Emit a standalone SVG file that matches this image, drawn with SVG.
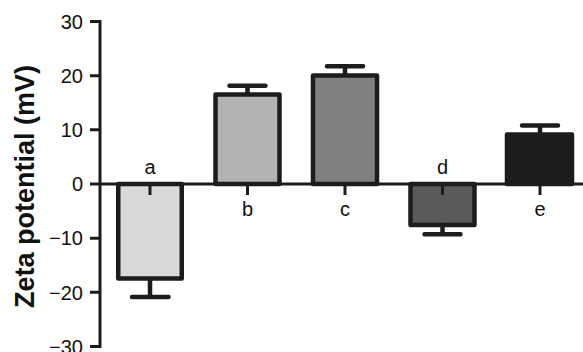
<svg xmlns="http://www.w3.org/2000/svg" width="583" height="352" viewBox="0 0 583 352">
<style>
.ax{stroke:#1c1c1c;stroke-width:3;fill:none}
.bar{stroke:#1c1c1c;stroke-width:4.5;stroke-linejoin:round}
.err{stroke:#1c1c1c;stroke-width:4.5;stroke-linecap:round;fill:none}
.tk{stroke:#1c1c1c;stroke-width:3;fill:none}
.t{font-family:"Liberation Sans",Arial,sans-serif;font-size:20px;fill:#111}
.yl{font-family:"Liberation Sans",Arial,sans-serif;font-size:27px;font-weight:bold;fill:#111}
</style>
<rect width="583" height="352" fill="#fff"/>
<g id="axes">
<line class="ax" x1="100" y1="20" x2="100" y2="348"/>
<path class="ax" d="M90 21.5H100M90 75.7H100M90 129.8H100M90 184H100M90 238.2H100M90 292.3H100M90 346.5H100"/>
<g class="t" text-anchor="end">
<text x="83" y="29">30</text>
<text x="83" y="83">20</text>
<text x="83" y="137">10</text>
<text x="83" y="191">0</text>
<text x="83" y="245">−10</text>
<text x="83" y="299.5">−20</text>
<text x="83" y="353.5">−30</text>
</g>
<text class="yl" transform="translate(34,186.5) rotate(-90)" text-anchor="middle">Zeta potential (mV)</text>
</g>
<g id="bar-a">
<rect class="bar" x="118.25" y="184" width="63.5" height="94.5" fill="#d9d9d9"/>
<path class="err" d="M150 280V297M132 297H168.5"/>
<line class="tk" x1="150" y1="184" x2="150" y2="195"/>
<text class="t" x="150" y="174" text-anchor="middle">a</text>
</g>
<g id="bar-b">
<rect class="bar" x="215.5" y="94.5" width="64" height="89.5" fill="#b3b3b3"/>
<path class="err" d="M247.5 93V85.8M229.5 85.8H265.5"/>
<line class="tk" x1="247.5" y1="184" x2="247.5" y2="195"/>
<text class="t" x="247.5" y="215.5" text-anchor="middle">b</text>
</g>
<g id="bar-c">
<rect class="bar" x="313" y="75.5" width="64" height="108.5" fill="#808080"/>
<path class="err" d="M345 74V66.2M327 66.2H363"/>
<line class="tk" x1="345" y1="184" x2="345" y2="195"/>
<text class="t" x="345" y="215.5" text-anchor="middle">c</text>
</g>
<g id="bar-d">
<rect class="bar" x="410.5" y="184" width="64" height="41" fill="#595959"/>
<path class="err" d="M442.5 226V234.3M424.5 234.3H460.5"/>
<line class="tk" x1="442.5" y1="184" x2="442.5" y2="195"/>
<text class="t" x="442.5" y="174" text-anchor="middle">d</text>
</g>
<g id="bar-e">
<rect class="bar" x="507" y="134.5" width="65" height="49.5" fill="#1c1c1c"/>
<path class="err" d="M540 133V125.5M522 125.5H558"/>
<line class="tk" x1="540" y1="184" x2="540" y2="195"/>
<text class="t" x="540" y="215.5" text-anchor="middle">e</text>
</g>
<g id="connectors">
<line class="ax" x1="100" y1="184" x2="583" y2="184"/>
</g>
</svg>
